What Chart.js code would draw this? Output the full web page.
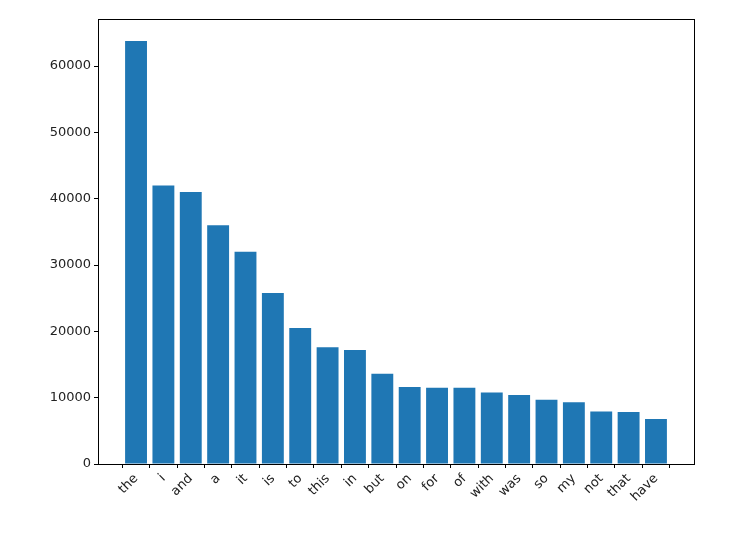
<!DOCTYPE html>
<html><head><script src="https://cdn.jsdelivr.net/npm/chart.js@4"></script>
<style>html,body{margin:0;padding:0;background:#fff}#w{width:751px;height:539px}</style></head>
<body><div id="w"><canvas id="c"></canvas></div>
<script>
const categories=["the","i","and","a","it","is","to","this","in","but","on","for","of","with","was","so","my","not","that","have"];
const counts=[63800,42000,41000,36000,32000,25800,20500,17600,17200,13600,11600,11500,11500,10800,10400,9700,9300,7900,7850,6800];
const yTicks=[0,10000,20000,30000,40000,50000,60000];
const boxPlugin={id:'box',afterDraw(ch){const a=ch.chartArea,c=ch.ctx;c.save();c.strokeStyle='#000';c.lineWidth=1;c.strokeRect(a.left+0.5,a.top+0.5,a.right-a.left,a.bottom-a.top);c.restore();}};
new Chart(document.getElementById('c'),{type:'bar',
data:{datasets:[{data:counts.map((v,i)=>({x:i,y:v})),backgroundColor:'#1f77b4',barPercentage:0.8,categoryPercentage:1}]},
options:{responsive:true,maintainAspectRatio:false,animation:false,
layout:{padding:{left:0,right:57,top:19,bottom:0}},
plugins:{legend:{display:false},tooltip:{enabled:false}},
scales:{
x:{type:'linear',min:-1.39,max:20.39,offset:false,
afterBuildTicks(s){s.ticks=categories.map((_,i)=>({value:i}));},
afterFit(s){s.height=75;},
ticks:{autoSkip:false,maxRotation:45,minRotation:45,color:'#222',font:{family:'DejaVu Sans',size:13},callback:(v)=>categories[v]??''},
grid:{drawOnChartArea:false,color:'#000',tickLength:4},border:{color:'#000'}},
y:{min:0,max:67100,
afterBuildTicks(s){s.ticks=yTicks.map(v=>({value:v}));},
afterFit(s){s.width=98;},
ticks:{color:'#222',font:{family:'DejaVu Sans',size:13},callback:v=>String(v)},
grid:{drawOnChartArea:false,color:'#000',tickLength:4},border:{color:'#000'}}}},
plugins:[boxPlugin]});
</script></body></html>
